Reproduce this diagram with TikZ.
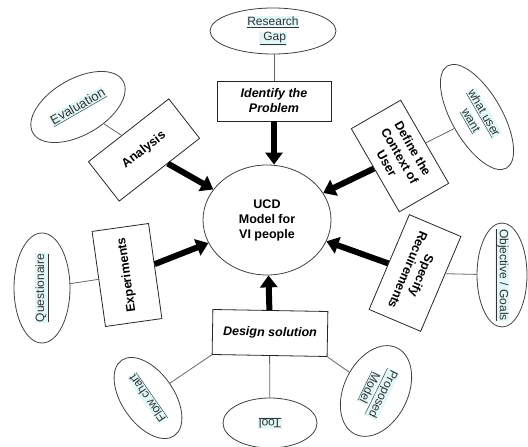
\documentclass[tikz,border=0pt]{standalone}
\usepackage{fontspec}
\setmainfont{Liberation Sans}
\usetikzlibrary{shapes.geometric,arrows.meta}
\definecolor{hlcyan}{HTML}{E2F7F7}
\definecolor{inkgray}{HTML}{333333}
\newcommand{\hlu}[1]{\makebox[0pt]{\setlength{\fboxsep}{0.5pt}\colorbox{hlcyan}{\underline{#1}}}}
\begin{document}
\begin{tikzpicture}[x=1pt,y=1pt,
    stage/.style={draw=black!85,fill=white,line width=0.8pt,align=center,
        font=\fontsize{12.5}{15}\selectfont\bfseries},
    item/.style={ellipse,draw=black!75,line width=0.8pt,inner sep=0pt,align=center,
        text=inkgray,font=\fontsize{12}{15}\selectfont},
    link/.style={draw=black!60,line width=0.8pt},
    push/.style={line width=6pt,-{Triangle[length=12pt,width=17pt]}}]
                \useasboundingbox (0,0) rectangle (528,447);
                %% centre
                \node[ellipse,draw=black!75,line width=0.8pt,minimum width=128pt,minimum height=110pt,
                    align=center,font=\fontsize{12.5}{15}\selectfont\bfseries] (ucd) at (267,227) {UCD\\Model for\\VI people};
                %% stages
                \node[stage,minimum width=114pt,minimum height=40pt,font=\fontsize{12.5}{15}\selectfont\bfseries\itshape]
                    (ident) at (274,346) {Identify the\\Problem};
                \node[stage,rotate=38,minimum width=102pt,minimum height=50pt] (anal) at (144,297) {Analysis};
                \node[stage,rotate=-60,minimum width=96pt,minimum height=57pt] (ctx) at (400,291) {Define the\\Context of\\User};
                \node[stage,rotate=98,minimum width=96pt,minimum height=57pt] (expt) at (127,172) {Experiments};
                \node[stage,rotate=-113,minimum width=103pt,minimum height=56pt] (spec) at (415,174) {Specify\\Recuirements};
                \node[stage,rotate=-1,minimum width=115pt,minimum height=45pt,font=\fontsize{12.5}{15}\selectfont\bfseries\itshape]
                    (design) at (270,114) {Design solution};
                %% items
                \node[item,minimum width=126pt,minimum height=46pt] (gap) at (273,416) {\hlu{Research}\\\hlu{~Gap}};
                \node[item,rotate=30,minimum width=104pt,minimum height=56pt,font=\fontsize{13}{15}\selectfont] (eval) at (78,340) {\hlu{Evaluation}};
                \node[item,rotate=-60,minimum width=118pt,minimum height=50pt] (want) at (477,330) {\hlu{what user}\\\hlu{want}};
                \node[item,rotate=90,minimum width=110pt,minimum height=56pt] (quest) at (42,159) {\hlu{Questionaire}};
                \node[item,rotate=-90,minimum width=104pt,minimum height=50pt] (goal) at (502,172) {\hlu{Objective / Goals}};
                \node[item,rotate=125,minimum width=92pt,minimum height=52pt] (flow) at (148,49) {\hlu{Flow chart}};
                \node[item,rotate=180,minimum width=94pt,minimum height=50pt] (tool) at (270,24) {\hlu{Tool}};
                \node[item,rotate=-116,minimum width=96pt,minimum height=64pt] (model) at (376,56) {\hlu{Proposed}\\\hlu{Model}};
                %% links
                \draw[link] (ident.north) -- (ident.north |- gap.south);
                \draw[link] (eval) -- (anal);
                \draw[link] (want) -- (ctx);
                \draw[link] (quest) -- (expt);
                \draw[link] (goal) -- (spec);
                \draw[link] (design.south west) -- (flow);
                \draw[link] (design.south) -- (tool);
                \draw[link] (design.south east) -- (model);
                %% arrows into the model
                \draw[push] (ident.south) -- (ident.south |- ucd.north);
                \draw[push] (anal) -- (ucd);
                \draw[push] (ctx) -- (ucd);
                \draw[push] (expt) -- (ucd);
                \draw[push] (spec) -- (ucd);
                \draw[push] (design) -- (ucd);
            \end{tikzpicture}
\end{document}
